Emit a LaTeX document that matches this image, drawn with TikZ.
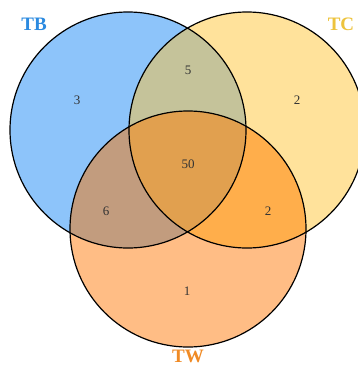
\documentclass[tikz,border=0pt]{standalone}
\usepackage{fontspec}
\setmainfont{Liberation Serif}
\definecolor{cB}{HTML}{8DC4FA}
\definecolor{cC}{HTML}{FFE29B}
\definecolor{cW}{HTML}{FFBD85}
\definecolor{cBC}{HTML}{C5C39A}
\definecolor{cBW}{HTML}{C29C7E}
\definecolor{cCW}{HTML}{FFAE4B}
\definecolor{cBCW}{HTML}{E1A04F}
\definecolor{tB}{HTML}{2B8AE0}
\definecolor{tC}{HTML}{EDC33C}
\definecolor{tW}{HTML}{F08A24}
\tikzset{
  setlabel/.style={font=\fontsize{19}{19}\selectfont\bfseries, inner sep=0pt},
  count/.style={font=\fontsize{13}{13}\selectfont, text=black!80, inner sep=0pt},
  outline/.style={draw=black, line width=1.2pt}
}
\begin{document}
\begin{tikzpicture}[x=1pt,y=-1pt]
\clip (0,0) rectangle (358,367);
\fill[white] (0,0) rectangle (358,367);
\def\R{118}
\coordinate (b) at (128,130);
\coordinate (c) at (247,130);
\coordinate (w) at (188,229);
\fill[cB] (b) circle (\R);
\fill[cC] (c) circle (\R);
\fill[cW] (w) circle (\R);
\begin{scope}
  \clip (b) circle (\R);
  \fill[cBC] (c) circle (\R);
  \fill[cBW] (w) circle (\R);
  \begin{scope}
    \clip (c) circle (\R);
    \fill[cBCW] (w) circle (\R);
  \end{scope}
\end{scope}
\begin{scope}
  \clip (c) circle (\R);
  \fill[cCW] (w) circle (\R);
  \clip (b) circle (\R);
  \fill[cBCW] (w) circle (\R);
\end{scope}
\draw[outline] (b) circle (\R);
\draw[outline] (c) circle (\R);
\draw[outline] (w) circle (\R);
\node[setlabel, text=tB] (lb) at (34,24) {TB};
\node[setlabel, text=tC] (lc) at (341,24) {TC};
\node[setlabel, text=tW] (lw) at (188,356) {TW};
\node[count] (n1) at (77,100) {3};
\node[count] (n2) at (188,70) {5};
\node[count] (n3) at (297,100) {2};
\node[count] (n4) at (188,164) {50};
\node[count] (n5) at (106,211) {6};
\node[count] (n6) at (268,211) {2};
\node[count] (n7) at (187,291) {1};
\end{tikzpicture}
\end{document}
